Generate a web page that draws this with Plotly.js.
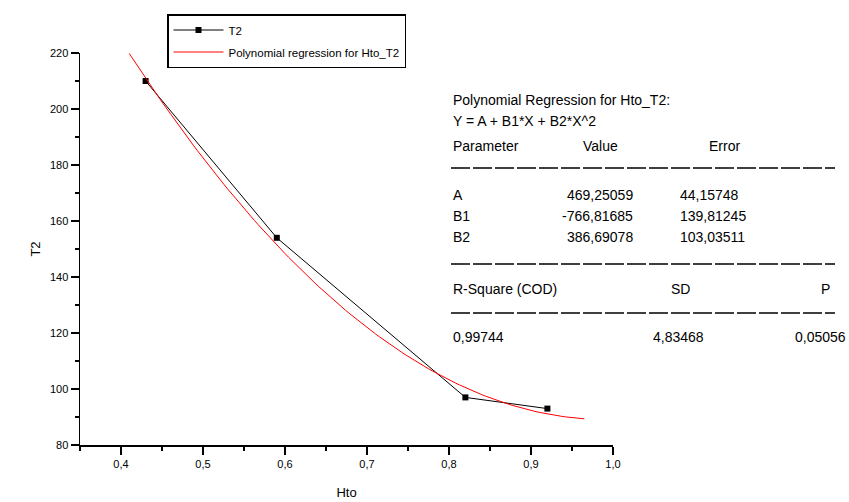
<!DOCTYPE html>
<html>
<head>
<meta charset="utf-8">
<script src="https://cdn.plot.ly/plotly-3.0.1.min.js"></script>
<style>
  html, body { margin: 0; padding: 0; background: #ffffff; }
  #chart { width: 849px; height: 502px; }
</style>
</head>
<body>
<div id="chart"></div>
<script>
// Measured samples: Hto vs T2
const htoValues = [0.43, 0.59, 0.82, 0.92];
const t2Values = [210, 154, 97, 93];

// Quadratic fit coefficients Y = A + B1*X + B2*X^2, with their standard errors
const paramNames = ["A", "B1", "B2"];
const paramValues = [469.25059, -766.81685, 386.69078];
const paramErrors = [44.15748, 139.81245, 103.03511];
const paramLabels = ["469,25059", "-766,81685", "386,69078"];
const errorLabels = ["44,15748", "139,81245", "103,03511"];
const statNames = ["R-Square (COD)", "SD", "P"];
const statLabels = ["0,99744", "4,83468", "0,05056"];

// x span over which the fitted curve is drawn
const fitRange = [0.41, 0.965];

const fitX = [];
const fitY = [];
const nFit = 120;
for (let i = 0; i <= nFit; i++) {
  const x = fitRange[0] + (fitRange[1] - fitRange[0]) * i / nFit;
  fitX.push(x);
  fitY.push(paramValues[0] + paramValues[1] * x + paramValues[2] * x * x);
}

// plot-area geometry in pixels, used to place the statistics table
const W = 849, H = 502;
const M = { l: 80, r: 236, t: 53, b: 57 };
const plotW = W - M.l - M.r, plotH = H - M.t - M.b;
const px = x => (x - M.l) / plotW;
const py = y => (H - M.b - y) / plotH;

const FONT = "Liberation Sans, Arial, sans-serif";
const txtFont = { family: FONT, size: 14, color: "#000000" };

const annotations = [];
function addText(text, x, y, anchor) {
  annotations.push({
    xref: "paper", yref: "paper", x: px(x), y: py(y),
    xanchor: anchor || "left", yanchor: "middle",
    text: text, showarrow: false, font: txtFont
  });
}

addText("Polynomial Regression for Hto_T2:", 451, 100);
addText("Y = A + B1*X + B2*X^2", 451, 121);
addText("Parameter", 451, 146);
addText("Value", 600, 146, "center");
addText("Error", 724, 146, "center");
for (let i = 0; i < paramNames.length; i++) {
  const y = 195 + i * 21;
  addText(paramNames[i], 451, y);
  addText(paramLabels[i], 635, y, "right");
  addText(errorLabels[i], 678, y);
}
addText(statNames[0], 451, 289);
addText(statNames[1], 680, 289, "center");
addText(statNames[2], 832, 289, "right");
addText(statLabels[0], 451, 337);
addText(statLabels[1], 706, 337, "right");
addText(statLabels[2], 848, 337, "right");

const shapes = [168, 264, 313].map(y => ({
  type: "line", xref: "paper", yref: "paper",
  x0: px(451), x1: px(835), y0: py(y), y1: py(y),
  line: { color: "#000000", width: 1.5, dash: "19px,3px" }
}));

const traces = [
  {
    x: htoValues, y: t2Values, name: "T2", legendgroup: "data",
    type: "scatter", mode: "lines+markers",
    line: { color: "#000000", width: 1 },
    marker: { symbol: "square", size: 6, color: "#000000" }
  },
  {
    x: fitX, y: fitY, name: "Polynomial regression for Hto_T2", legendgroup: "fit",
    type: "scatter", mode: "lines",
    line: { color: "#ff0000", width: 1 }
  }
];

const axisCommon = {
  showgrid: false, zeroline: false, showline: true,
  linecolor: "#000000", linewidth: 1.5,
  ticks: "outside", ticklen: 8, tickwidth: 1.5, tickcolor: "#000000",
  tickfont: { family: FONT, size: 11, color: "#000000" },
  mirror: false
};

const layout = {
  width: W, height: H,
  margin: M,
  paper_bgcolor: "#ffffff", plot_bgcolor: "#ffffff",
  separators: ",.",
  showlegend: true,
  legend: {
    x: px(167), y: py(14), xanchor: "left", yanchor: "top",
    bgcolor: "#ffffff", bordercolor: "#000000", borderwidth: 1.5,
    font: { family: FONT, size: 11.5, color: "#000000" },
    traceorder: "grouped", tracegroupgap: 3, itemwidth: 50
  },
  xaxis: Object.assign({}, axisCommon, {
    range: [0.35, 1.0], tick0: 0.4, dtick: 0.1, tickformat: ".1f",
    minor: { tick0: 0.35, dtick: 0.05, ticks: "outside", ticklen: 4, tickwidth: 1.5, tickcolor: "#000000" },
    title: { text: "Hto", font: { family: FONT, size: 13, color: "#000000" }, standoff: 19 }
  }),
  yaxis: Object.assign({}, axisCommon, {
    range: [80, 220], tick0: 80, dtick: 20,
    minor: { tick0: 80, dtick: 10, ticks: "outside", ticklen: 4, tickwidth: 1.5, tickcolor: "#000000" },
    title: { text: "T2", font: { family: FONT, size: 13, color: "#000000" }, standoff: 6 }
  }),
  annotations: annotations,
  shapes: shapes
};

Plotly.newPlot("chart", traces, layout, { staticPlot: true, displayModeBar: false });
</script>
</body>
</html>
